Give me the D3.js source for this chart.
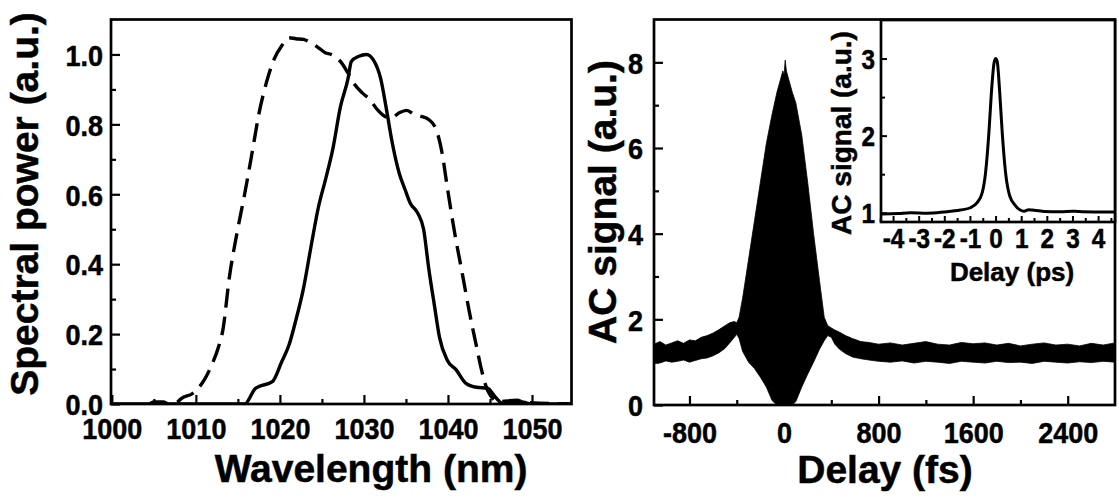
<!DOCTYPE html>
<html><head><meta charset="utf-8">
<script src="https://cdn.jsdelivr.net/npm/d3@7"></script>
<style>
body{margin:0;background:#fff}
svg{display:block}
text{font-family:"Liberation Sans",Arial,sans-serif;font-weight:bold;fill:#000;stroke:#000;stroke-width:0.5px}
</style>
</head><body>
<svg id="chart" width="1119" height="499"></svg>
<script>
// ---------- Data: left panel (spectra) ----------
const wavelengthTicks = [1000, 1010, 1020, 1030, 1040, 1050];
const wavelengthMinor = [1005, 1015, 1025, 1035, 1045];
const powerTicks = [0.0, 0.2, 0.4, 0.6, 0.8, 1.0];
const powerMinor = [0.1, 0.3, 0.5, 0.7, 0.9];

const solidWl  = [1000, 1004.4, 1005.0, 1006.1, 1006.8, 1015.8, 1017.1, 1017.5, 1019.1, 1020.2, 1021.1, 1021.9, 1022.8, 1023.7, 1024.6, 1025.4, 1026.3, 1027.2, 1028.1, 1028.5, 1029.4, 1030.3, 1031.1, 1032.0, 1032.7, 1033.3, 1034.2, 1034.9, 1035.5, 1036.4, 1037.1, 1037.7, 1038.4, 1039.0, 1039.9, 1041.0, 1042.1, 1043.4, 1044.7, 1045.6, 1046.5, 1048.0, 1049.0, 1050.0, 1054.7];
const solidPow = [0, 0, 0.006, 0.006, 0, 0, 0.045, 0.05, 0.064, 0.12, 0.17, 0.24, 0.33, 0.45, 0.565, 0.64, 0.73, 0.85, 0.93, 0.98, 0.995, 1.0, 0.985, 0.93, 0.84, 0.756, 0.66, 0.613, 0.575, 0.546, 0.5, 0.39, 0.28, 0.19, 0.126, 0.097, 0.06, 0.048, 0.045, 0.021, 0.002, 0.008, 0.005, 0, 0];

const dashedWl  = [1007.8, 1008.3, 1009.6, 1011.0, 1011.8, 1012.7, 1013.2, 1014.0, 1014.9, 1015.8, 1016.7, 1017.5, 1018.4, 1019.3, 1020.2, 1021.1, 1021.9, 1022.8, 1023.7, 1024.6, 1025.4, 1026.1, 1027.2, 1028.1, 1028.9, 1029.8, 1030.7, 1031.6, 1032.5, 1033.3, 1034.2, 1035.1, 1036.0, 1036.8, 1037.7, 1038.6, 1039.3, 1039.9, 1040.8, 1041.7, 1042.5, 1043.4, 1043.9, 1044.7, 1046.0, 1048.2, 1049.1, 1054.7];
const dashedPow = [0.005, 0.016, 0.03, 0.069, 0.107, 0.164, 0.21, 0.365, 0.49, 0.6, 0.72, 0.83, 0.92, 0.986, 1.024, 1.048, 1.045, 1.043, 1.033, 1.019, 1.005, 1.0, 0.98, 0.947, 0.914, 0.89, 0.871, 0.842, 0.823, 0.819, 0.833, 0.84, 0.828, 0.823, 0.814, 0.785, 0.718, 0.623, 0.489, 0.374, 0.269, 0.164, 0.107, 0.04, 0.007, 0.011, 0.005, 0];

// ---------- Data: right panel (autocorrelation envelope) ----------
const delayTicks = [-800, 0, 800, 1600, 2400];
const delayMinor = [-400, 400, 1200, 2000];
const acTicks = [0, 2, 4, 6, 8];
const acMinor = [1, 3, 5, 7];

const acDelay = [-1100, -1050, -1000, -950, -900, -850, -800, -750, -700, -650, -600, -550, -500, -460, -420, -400, -380, -350, -300, -250, -200, -150, -100, -60, -30, -10, 0, 10, 20, 40, 70, 100, 150, 200, 250, 300, 340, 370, 400, 430, 470, 520, 580, 650, 720, 800, 900, 1000, 1100, 1200, 1300, 1400, 1500, 1600, 1700, 1800, 1900, 2000, 2100, 2200, 2300, 2400, 2500, 2600, 2700, 2800];
const acUpper = [1.42, 1.48, 1.40, 1.45, 1.50, 1.44, 1.52, 1.50, 1.58, 1.62, 1.68, 1.76, 1.85, 1.92, 1.95, 1.92, 2.05, 2.5, 3.4, 4.3, 5.2, 6.1, 6.8, 7.3, 7.6, 7.8, 7.7, 8.05, 7.8, 7.6, 7.3, 7.05, 6.3, 5.2, 4.0, 2.9, 2.05, 1.85, 1.8, 1.75, 1.7, 1.62, 1.55, 1.48, 1.46, 1.42, 1.45, 1.40, 1.44, 1.48, 1.42, 1.40, 1.46, 1.43, 1.45, 1.40, 1.44, 1.38, 1.42, 1.45, 1.40, 1.42, 1.38, 1.44, 1.40, 1.45];
const acLower = [1.02, 0.98, 1.03, 1.0, 1.02, 1.05, 1.0, 1.04, 1.08, 1.1, 1.15, 1.22, 1.32, 1.45, 1.58, 1.65, 1.55, 1.25, 1.0, 0.85, 0.65, 0.42, 0.1, 0, 0, 0, 0, 0, 0, 0, 0, 0.08, 0.42, 0.72, 1.0, 1.3, 1.5, 1.62, 1.58, 1.42, 1.3, 1.2, 1.12, 1.08, 1.05, 1.02, 1.0, 1.03, 0.98, 1.02, 1.0, 0.97, 1.02, 1.0, 0.98, 1.02, 0.99, 1.0, 0.97, 1.02, 1.0, 0.98, 1.01, 0.99, 1.02, 1.0];

// ---------- Data: inset ----------
const insetXTicks = [-4, -3, -2, -1, 0, 1, 2, 3, 4];
const insetXMinor = [-4.5, -3.5, -2.5, -1.5, -0.5, 0.5, 1.5, 2.5, 3.5, 4.5];
const insetYTicks = [1, 2, 3];
const insetYMinor = [1.5, 2.5];
const insetDelay  = [-4.47, -3.8, -3.32, -2.67, -2.02, -1.37, -0.98, -0.72, -0.52, -0.39, -0.26, -0.16, -0.065, 0, 0.065, 0.16, 0.26, 0.39, 0.55, 0.78, 1.11, 1.3, 1.43, 1.89, 2.54, 3.0, 3.19, 3.4, 3.84, 4.66];
const insetSignal = [0.985, 0.99, 1.0, 0.995, 1.01, 1.035, 1.065, 1.13, 1.26, 1.52, 2.04, 2.57, 2.93, 3.0, 2.96, 2.57, 2.04, 1.52, 1.22, 1.09, 1.02, 1.04, 1.035, 1.017, 1.013, 1.02, 1.017, 1.012, 1.01, 1.01];

// ---------- Drawing ----------
const svg = d3.select("#chart");
svg.append("rect").attr("width", 1119).attr("height", 499).attr("fill", "#fff");
const SX = 0.9; // horizontal squeeze of the reference tick lettering

function drawAxes(g, x, y, o) {
  const [x0, x1] = x.range(), [y0, y1] = y.range();
  const bx = g.append("g").attr("transform", `translate(0,${y0})`)
    .call(d3.axisBottom(x).tickValues(o.xMajor).tickSizeInner(-o.majLen).tickSizeOuter(0).tickFormat(o.xFmt));
  bx.select(".domain").remove();
  bx.selectAll("line").attr("stroke", "#000").attr("stroke-width", o.tw);
  bx.selectAll("text").attr("y", o.xLabelY).attr("dy", null).attr("transform", `scale(${SX},1)`)
    .style("font-size", o.tickFont + "px").attr("font-family", null).attr("fill", null);
  const bm = g.append("g").attr("transform", `translate(0,${y0})`)
    .call(d3.axisBottom(x).tickValues(o.xMinor).tickSizeInner(-o.minLen).tickSizeOuter(0).tickFormat(""));
  bm.select(".domain").remove();
  bm.selectAll("line").attr("stroke", "#000").attr("stroke-width", o.tw);
  const ly = g.append("g").attr("transform", `translate(${x0},0)`)
    .call(d3.axisLeft(y).tickValues(o.yMajor).tickSizeInner(-o.majLen).tickSizeOuter(0).tickFormat(o.yFmt));
  ly.select(".domain").remove();
  ly.selectAll("line").attr("stroke", "#000").attr("stroke-width", o.tw);
  ly.selectAll("text").attr("x", o.yLabelX / SX).attr("dy", "0.36em").attr("transform", `scale(${SX},1)`)
    .style("font-size", o.tickFont + "px").attr("font-family", null).attr("fill", null);
  const lm = g.append("g").attr("transform", `translate(${x0},0)`)
    .call(d3.axisLeft(y).tickValues(o.yMinor).tickSizeInner(-o.minLen).tickSizeOuter(0).tickFormat(""));
  lm.select(".domain").remove();
  lm.selectAll("line").attr("stroke", "#000").attr("stroke-width", o.tw);
  g.append("rect").attr("x", x0).attr("y", y1).attr("width", x1 - x0).attr("height", y0 - y1)
    .attr("fill", "none").attr("stroke", "#000").attr("stroke-width", o.fw);
}

function hTitle(g, x, y, size, str) {
  g.append("text").attr("transform", `translate(${x},${y})`)
    .attr("text-anchor", "middle").style("font-size", size + "px").text(str);
}
function vTitle(g, x, y, size, str) {
  g.append("text").attr("transform", `translate(${x},${y}) rotate(-90)`)
    .attr("text-anchor", "middle").style("font-size", size + "px").text(str);
}

// ===== Left panel =====
const xL = d3.scaleLinear().domain([999.9, 1054.7]).range([111, 571.5]);
const yL = d3.scaleLinear().domain([0, 1.1]).range([404, 19.5]);
const gL = svg.append("g");
svg.append("clipPath").attr("id", "clipL").append("rect")
  .attr("x", 111).attr("y", 19.5).attr("width", 460.5).attr("height", 384.5);
const lineL = d3.line().x(d => xL(d[0])).y(d => yL(d[1])).curve(d3.curveMonotoneX);
gL.append("path").datum(dashedWl.map((w, i) => [w, dashedPow[i]]))
  .attr("clip-path", "url(#clipL)").attr("d", lineL)
  .attr("fill", "none").attr("stroke", "#000").attr("stroke-width", 3.4).attr("stroke-dasharray", "19,9");
gL.append("path").datum(solidWl.map((w, i) => [w, solidPow[i]]))
  .attr("clip-path", "url(#clipL)").attr("d", lineL)
  .attr("fill", "none").attr("stroke", "#000").attr("stroke-width", 3.4).attr("stroke-linejoin", "round");
drawAxes(gL, xL, yL, {
  xMajor: wavelengthTicks, xMinor: wavelengthMinor, yMajor: powerTicks, yMinor: powerMinor,
  xFmt: d3.format("d"), yFmt: d3.format(".1f"), majLen: 9, minLen: 5, tw: 2.2, fw: 2.7,
  xLabelY: 35, yLabelX: -8, tickFont: 30
});
hTitle(gL, 371, 482, 39, "Wavelength (nm)");
vTitle(gL, 38, 204, 39, "Spectral power (a.u.)");

// ===== Right panel =====
const xR = d3.scaleLinear().domain([-1100, 2800]).range([654, 1115]);
const yR = d3.scaleLinear().domain([0, 9]).range([405, 19.5]);
const gR = svg.append("g");
svg.append("clipPath").attr("id", "clipR").append("rect")
  .attr("x", 654).attr("y", 19.5).attr("width", 461).attr("height", 385.5);
const areaR = d3.area().x((d, i) => xR(acDelay[i])).y0((d, i) => yR(acLower[i])).y1((d, i) => yR(acUpper[i]));
gR.append("path").datum(acDelay).attr("clip-path", "url(#clipR)").attr("d", areaR)
  .attr("fill", "#000").attr("stroke", "#000").attr("stroke-width", 0.8);
drawAxes(gR, xR, yR, {
  xMajor: delayTicks, xMinor: delayMinor, yMajor: acTicks, yMinor: acMinor,
  xFmt: d3.format("d"), yFmt: d3.format("d"), majLen: 9, minLen: 5, tw: 2.2, fw: 2.7,
  xLabelY: 38, yLabelX: -11, tickFont: 30
});
hTitle(gR, 885, 483, 39, "Delay (fs)");
vTitle(gR, 616, 202, 39, "AC signal (a.u.)");

// ===== Inset =====
const xI = d3.scaleLinear().domain([-4.47, 4.66]).range([881, 1115]);
const yI = d3.scaleLinear().domain([0.88, 3.5]).range([222, 20]);
const gI = svg.append("g");
gI.append("rect").attr("x", 881).attr("y", 20).attr("width", 234).attr("height", 202).attr("fill", "#fff");
svg.append("clipPath").attr("id", "clipI").append("rect")
  .attr("x", 881).attr("y", 20).attr("width", 234).attr("height", 202);
const lineI = d3.line().x(d => xI(d[0])).y(d => yI(d[1])).curve(d3.curveMonotoneX);
gI.append("path").datum(insetDelay.map((t, i) => [t, insetSignal[i]]))
  .attr("clip-path", "url(#clipI)").attr("d", lineI)
  .attr("fill", "none").attr("stroke", "#000").attr("stroke-width", 3);
drawAxes(gI, xI, yI, {
  xMajor: insetXTicks, xMinor: insetXMinor, yMajor: insetYTicks, yMinor: insetYMinor,
  xFmt: d3.format("d"), yFmt: d3.format("d"), majLen: 6, minLen: 4, tw: 2, fw: 2.7,
  xLabelY: 26, yLabelX: -6, tickFont: 27
});
hTitle(gI, 1012, 281, 26, "Delay (ps)");
vTitle(gI, 851, 133, 28, "AC signal (a.u.)");

svg.selectAll("text").each(function(){ const t = this.textContent; if (t.includes("−")) d3.select(this).text(t.replace("−", "-")); });
</script>
</body></html>
